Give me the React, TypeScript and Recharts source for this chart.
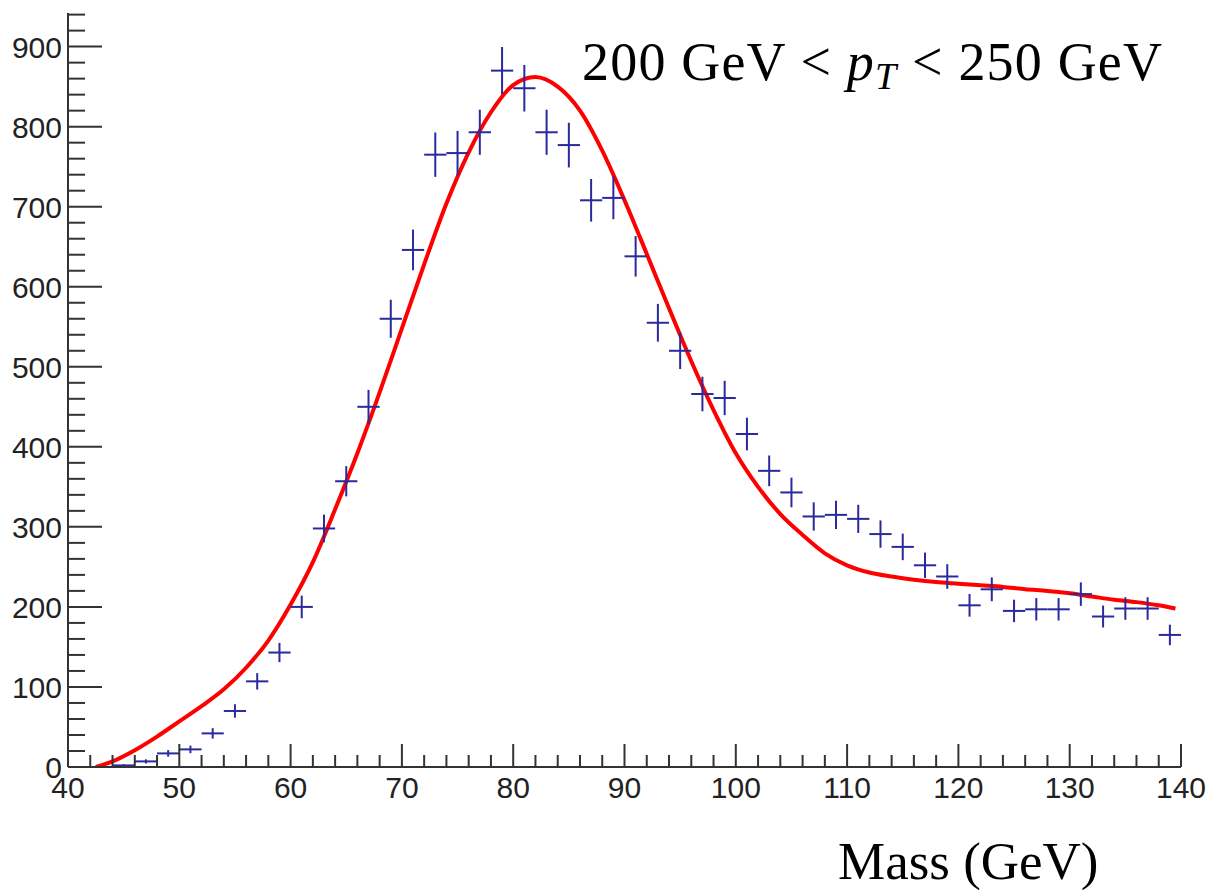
import React from 'react';
import { ComposedChart, Line, Scatter, XAxis, YAxis, ErrorBar } from 'recharts';

// Histogram bin centres (GeV)
const massBins = [
  45, 47, 49, 51, 53, 55, 57, 59, 61, 63, 65, 67, 69, 71, 73, 75, 77, 79, 81, 83, 85, 87, 89, 91,
  93, 95, 97, 99, 101, 103, 105, 107, 109, 111, 113, 115, 117, 119, 121, 123, 125, 127, 129, 131,
  133, 135, 137, 139,
];
// Entries per bin
const counts = [
  2, 7, 17, 22, 42, 70, 107, 143, 200, 298, 357, 450, 560, 646, 765, 767, 793, 870, 848, 793, 777,
  708, 711, 638, 555, 520, 466, 461, 416, 370, 343, 313, 315, 310, 291, 275, 252, 238, 202, 222,
  195, 197, 197, 216, 188, 198, 198, 165,
];
// Vertical error bar half-lengths
const countErrors = [
  1.4, 2.6, 4.1, 4.7, 6.5, 8.4, 10.3, 12, 14.1, 17.3, 18.9, 21.2, 23.7, 25.4, 27.7, 27.7, 28.2,
  29.5, 29.1, 28.2, 27.9, 26.6, 26.7, 25.3, 23.6, 22.8, 21.6, 21.5, 20.4, 19.2, 18.5, 17.7, 17.7,
  17.6, 17.1, 16.6, 15.9, 15.4, 14.2, 14.9, 14, 14, 14, 14.7, 13.7, 14.1, 14.1, 12.8,
];
const binHalfWidth = 1;

// Fit curve
const fitMass = [
  42.5, 44, 46, 48, 50, 52, 54, 56, 58, 60, 62, 64, 66, 68, 70, 72, 74, 76, 78, 80, 82, 84, 86,
  88, 90, 92, 94, 96, 98, 100, 102, 104, 106, 108, 110, 112, 114, 116, 118, 120, 122, 124, 126,
  128, 130, 132, 134, 136, 138, 139.5,
];
const fitValues = [
  0, 7, 21, 38, 57, 76, 97, 124, 158, 203, 256, 322, 392, 468, 548, 628, 704, 768, 818, 852, 862,
  850, 820, 770, 708, 641, 573, 507, 446, 392, 350, 316, 290, 267, 252, 243, 238, 234, 231, 229,
  227, 225, 222, 220, 217, 213, 209, 206, 202, 198,
];

const xTicks = Array.from({ length: 51 }, (_, i) => 40 + i * 2);
const yTicks = Array.from({ length: 48 }, (_, i) => i * 20);

const pointData = massBins.map((m, i) => ({
  x: m,
  y: counts[i],
  err: countErrors[i],
  xerr: binHalfWidth,
}));
const fitData = fitMass.map((m, i) => ({ x: m, fit: fitValues[i] }));

const AXIS = '#333333';
const LABEL_FONT = '"Liberation Sans", Arial, sans-serif';
const SERIF = '"Liberation Serif", "Times New Roman", serif';

const XTick = (props: any) => {
  const { x, y, payload } = props;
  const v = payload.value;
  const major = v % 10 === 0;
  return (
    <g>
      <line x1={x} x2={x} y1={y} y2={y - (major ? 23 : 12)} stroke={AXIS} strokeWidth={2} />
      {major && (
        <text x={x} y={y + 31} textAnchor="middle" fontFamily={LABEL_FONT} fontSize={30} fill="#222">
          {v}
        </text>
      )}
    </g>
  );
};

const YTick = (props: any) => {
  const { x, y, payload } = props;
  const v = payload.value;
  const major = v % 100 === 0;
  return (
    <g>
      <line x1={x} x2={x + (major ? 34 : 17)} y1={y} y2={y} stroke={AXIS} strokeWidth={2} />
      {major && (
        <text x={x - 6} y={y + 11} textAnchor="end" fontFamily={LABEL_FONT} fontSize={30} fill="#222">
          {v}
        </text>
      )}
    </g>
  );
};

const NoMarker = () => <g />;

export default function App() {
  return (
    <div style={{ position: 'absolute', left: 8, top: 8, width: 1201, height: 882 }}>
      <ComposedChart
        width={1201}
        height={882}
        margin={{ top: 5, right: 28, left: 0, bottom: 8 }}
      >
        <XAxis
          dataKey="x"
          type="number"
          domain={[40, 140]}
          ticks={xTicks}
          interval={0}
          allowDataOverflow
          height={115}
          tickSize={0}
          tickMargin={0}
          tickLine={false}
          tick={<XTick />}
          axisLine={{ stroke: AXIS, strokeWidth: 2 }}
        />
        <XAxis
          xAxisId="top"
          orientation="top"
          type="number"
          domain={[40, 140]}
          height={0}
          tick={false}
          tickLine={false}
          axisLine={{ stroke: '#555', strokeWidth: 2 }}
        />
        <YAxis
          type="number"
          domain={[0, 942]}
          ticks={yTicks}
          interval={0}
          allowDataOverflow
          width={60}
          tickSize={0}
          tickMargin={0}
          tickLine={false}
          tick={<YTick />}
          axisLine={{ stroke: AXIS, strokeWidth: 2 }}
        />
        <YAxis
          yAxisId="right"
          orientation="right"
          type="number"
          domain={[0, 942]}
          width={0}
          tick={false}
          tickLine={false}
          axisLine={{ stroke: '#555', strokeWidth: 2 }}
        />
        <Line
          data={fitData}
          dataKey="fit"
          type="monotone"
          stroke="#ff0000"
          strokeWidth={4}
          dot={false}
          activeDot={false}
          isAnimationActive={false}
        />
        <Scatter data={pointData} dataKey="y" shape={<NoMarker />} isAnimationActive={false}>
          <ErrorBar dataKey="err" direction="y" width={0} stroke="#2a2a9c" strokeWidth={2} />
          <ErrorBar dataKey="xerr" direction="x" width={0} stroke="#2a2a9c" strokeWidth={2} />
        </Scatter>
      </ComposedChart>
      <svg
        width={1201}
        height={882}
        style={{ position: 'absolute', left: 0, top: 0, pointerEvents: 'none' }}
      >
        <text
          x={574}
          y={72}
          fontFamily={SERIF}
          fontSize={54}
          fill="#000"
          textLength={580}
          lengthAdjust="spacing"
        >
          <tspan>200 GeV {'<'} </tspan>
          <tspan fontStyle="italic">p</tspan>
          <tspan fontStyle="italic" fontSize={38} dy={9}>T</tspan>
          <tspan dy={-9}> {'<'} 250 GeV</tspan>
        </text>
        <text x={830} y={871} fontFamily={SERIF} fontSize={53} fill="#000">
          Mass (GeV)
        </text>
      </svg>
    </div>
  );
}
